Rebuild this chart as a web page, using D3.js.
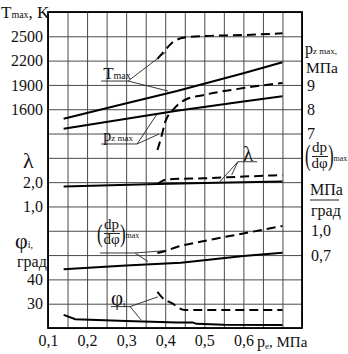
<!DOCTYPE html>
<html>
<head>
<meta charset="utf-8">
<script src="https://cdn.jsdelivr.net/npm/d3@7"></script>
<style>
body { margin: 0; background: #fff; }
svg { display: block; font-family: "Liberation Serif", "Times New Roman", serif; }
</style>
</head>
<body>
<div id="chart"></div>
<script>
// tick labels
const peTicks = [0.1, 0.2, 0.3, 0.4, 0.5, 0.6];
const tTicks = [2500, 2200, 1900, 1600];
const pzTicks = [9, 8, 7];
const lamTicks = [2, 1];
const dpTicks = [1.0, 0.7];
const phiTicks = [40, 30];

// Tmax, K
const peT = [0.14, 0.28, 0.43, 0.6, 0.7];
const tSolid = [1483, 1650, 1825, 2043, 2180];
const peTd = [0.38, 0.40, 0.42, 0.45, 0.5, 0.6, 0.7];
const tDash = [2220, 2331, 2430, 2485, 2504, 2516, 2537];

// pz max, MPa
const pePz = [0.14, 0.43, 0.6, 0.7];
const pzSolid = [7.20, 7.94, 8.32, 8.53];
const pePzd = [0.38, 0.39, 0.40, 0.42, 0.45, 0.5, 0.6, 0.7];
const pzDash = [6.32, 6.86, 7.48, 7.97, 8.38, 8.59, 8.87, 9.08];

// lambda
const peLam = [0.14, 0.38, 0.5, 0.7];
const lamSolid = [1.82, 1.92, 1.97, 2.03];
const peLamd = [0.38, 0.40, 0.42, 0.5, 0.6, 0.7];
const lamDash = [1.92, 2.10, 2.13, 2.16, 2.23, 2.29];

// (dp/dphi)max
const peDp = [0.14, 0.3, 0.44, 0.6, 0.7];
const dpSolid = [0.525, 0.57, 0.606, 0.69, 0.73];
const peDpd = [0.38, 0.40, 0.43, 0.5, 0.6, 0.7];
const dpDash = [0.726, 0.751, 0.800, 0.874, 0.967, 1.059];

// phi_i, deg
const pePhi = [0.14, 0.17, 0.3, 0.43, 0.47, 0.48, 0.55, 0.7];
const phiSolid = [25.4, 23.6, 22.9, 22.3, 22.3, 21.7, 21.3, 21.2];
const pePhid = [0.38, 0.393, 0.416, 0.45, 0.7];
const phiDash = [34.9, 32.4, 30.3, 27.4, 27.4];

const svg = d3.select('#chart').append('svg').attr('width', 348).attr('height', 354);

const x = d3.scaleLinear().domain([0.1, 0.75]).range([48, 302]);
// every quantity sits on the same 13 grid rows
const yT = d3.scaleLinear().domain([2800, -1100]).range([12, 328]);
const yPz = d3.scaleLinear().domain([12, -1]).range([12, 328]);
const yLam = d3.scaleLinear().domain([9, -4]).range([12, 328]);
const yDp = d3.scaleLinear().domain([3.7, -0.2]).range([12, 328]);
const yPhi = d3.scaleLinear().domain([150, 20]).range([12, 328]);

const [x0, x1] = x.range();
const [y0, y1] = yT.range();
const comma = d => d3.format('.1f')(d).replace('.', ',');

// grid
const rows = d3.range(14).map(i => 2800 - 300 * i);
const cols = d3.range(14).map(i => 0.1 + 0.05 * i);
svg.append('g').attr('transform', `translate(0,${y1})`)
    .call(d3.axisBottom(x).tickValues(cols).tickSize(-(y1 - y0)).tickFormat(''))
    .call(g => g.select('.domain').remove());
svg.append('g').attr('transform', `translate(${x0},0)`)
    .call(d3.axisLeft(yT).tickValues(rows).tickSize(-(x1 - x0)).tickFormat(''))
    .call(g => g.select('.domain').remove());
svg.selectAll('.tick line').attr('stroke', '#4a4a4a').attr('stroke-width', 1);

svg.append('rect').attr('x', x0).attr('y', y0).attr('width', x1 - x0).attr('height', y1 - y0)
    .attr('fill', 'none').attr('stroke', '#000').attr('stroke-width', 1.8);

// tick labels
function labels(axis, tx, ty) {
    svg.append('g').attr('transform', `translate(${tx},${ty})`).call(axis)
        .call(g => g.select('.domain').remove())
        .call(g => g.selectAll('text').attr('font-size', 16).attr('fill', '#111'))
        .attr('font-family', null).attr('font-size', null);
}
labels(d3.axisBottom(x).tickValues(peTicks).tickSize(0).tickPadding(7).tickFormat(comma), 0, y1);
labels(d3.axisLeft(yT).tickValues(tTicks).tickSize(0).tickPadding(5).tickFormat(d3.format('d')), x0, 0);
labels(d3.axisLeft(yLam).tickValues(lamTicks).tickSize(0).tickPadding(5).tickFormat(comma), x0, 0);
labels(d3.axisLeft(yPhi).tickValues(phiTicks).tickSize(0).tickPadding(5).tickFormat(d3.format('d')), x0, 0);
labels(d3.axisRight(yPz).tickValues(pzTicks).tickSize(0).tickPadding(5).tickFormat(d3.format('d')), x1, 0);
labels(d3.axisRight(yDp).tickValues(dpTicks).tickSize(0).tickPadding(9).tickFormat(comma), x1, 0);

// curves
const series = [
    { pe: peT, v: tSolid, y: yT, dash: false },
    { pe: peTd, v: tDash, y: yT, dash: true },
    { pe: pePz, v: pzSolid, y: yPz, dash: false },
    { pe: pePzd, v: pzDash, y: yPz, dash: true },
    { pe: peLam, v: lamSolid, y: yLam, dash: false },
    { pe: peLamd, v: lamDash, y: yLam, dash: true },
    { pe: peDp, v: dpSolid, y: yDp, dash: false },
    { pe: peDpd, v: dpDash, y: yDp, dash: true },
    { pe: pePhi, v: phiSolid, y: yPhi, dash: false },
    { pe: pePhid, v: phiDash, y: yPhi, dash: true }
];
series.forEach(s => {
    const line = d3.line().x(d => x(d[0])).y(d => s.y(d[1]))
        .curve(s.dash ? d3.curveMonotoneX : d3.curveLinear);
    svg.append('path').datum(d3.zip(s.pe, s.v)).attr('d', line)
        .attr('fill', 'none').attr('stroke', '#000').attr('stroke-width', 2)
        .attr('stroke-dasharray', s.dash ? '9,5' : null);
});

// text helper: parts = [[text, size, dy]]
function txt(px, py, parts, anchor) {
    const t = svg.append('text').attr('x', px).attr('y', py).attr('fill', '#111')
        .attr('text-anchor', anchor || 'start');
    parts.forEach(p => t.append('tspan').attr('font-size', p[1]).attr('dy', p[2] || 0).text(p[0]));
    return t;
}
// tall bracket: normal glyph stretched vertically
function paren(px, py, ch, sy) {
    svg.append('text').attr('transform', `translate(${px},${py}) scale(1,${sy})`)
        .attr('font-size', 17).attr('fill', '#111').text(ch);
}
function seg(ax, ay, bx, by, w) {
    svg.append('line').attr('x1', ax).attr('y1', ay).attr('x2', bx).attr('y2', by)
        .attr('stroke', '#222').attr('stroke-width', w || 0.9);
}
// (dp/dphi)max block, bx/by = left edge / baseline of the brackets
function dpLabel(bx, by, sy) {
    paren(bx, by, '(', sy);
    txt(bx + 14.5, by - 13, [['dp', 15]], 'middle');
    seg(bx + 7, by - 8.5, bx + 23, by - 8.5, 1);
    txt(bx + 14.5, by + 2.5, [['dφ', 15]], 'middle');
    paren(bx + 23, by, ')', sy);
    txt(bx + 28.5, by - 4, [['max', 8]]);
}

// curve callouts: underline from (pe a..b, v) with leaders to points on curves
const notes = [
    { y: yT, a: 0.236, b: 0.305, v: 1948, to: [[0.402, 2306], [0.407, 1825]] },
    { y: yPz, a: 0.236, b: 0.328, v: 6.57, to: [[0.379, 7.80], [0.384, 6.98]] },
    { y: yLam, a: 0.586, b: 0.635, v: 2.84, to: [[0.570, 2.29], [0.536, 1.95]], from: 'a' },
    { y: yDp, a: 0.233, b: 0.323, v: 0.726, to: [[0.399, 0.754], [0.356, 0.619]] },
    { y: yPhi, a: 0.261, b: 0.310, v: 28.8, to: [[0.381, 32.8], [0.338, 23.3]] }
];
notes.forEach(n => {
    const yy = n.y(n.v);
    seg(x(n.a), yy, x(n.b), yy);
    const sx = n.from === 'a' ? x(n.a) : x(n.b);
    n.to.forEach(p => seg(sx, yy, x(p[0]), n.y(p[1])));
});

// callout texts
txt(x(0.236) + 2, yT(1948) - 2, [['T', 17], ['max', 10]]);
txt(x(0.236) + 2, yPz(6.57) - 3, [['p', 16], ['z max', 9]]);
txt(x(0.586) + 5, yLam(2.84) - 1, [['λ', 21]]);
txt(x(0.261), yPhi(28.8) - 2, [['φ', 21], ['i', 9, 2]]);
dpLabel(x(0.233) - 3, yDp(0.726) - 11, 1.45);

// axis titles
txt(1, 18, [['T', 17], ['max', 10], [', K', 17]]);
txt(23, 168, [['λ', 22]]);
txt(15, 248, [['φ', 22], ['i,', 10]]);
txt(17, 267, [['град', 16]]);
txt(257, 347, [['p', 16], ['e', 9, 2], [', МПа', 15, -2]]);

txt(305, 54, [['p', 16], ['z max,', 9]]);
txt(306, 72.5, [['МПа', 15.5]]);
dpLabel(305, 165, 1.7);
txt(310, 195, [['МПа', 16]]);
seg(310, 200, 339, 200, 1);
txt(311, 216, [['град', 16]]);
</script>
</body>
</html>
